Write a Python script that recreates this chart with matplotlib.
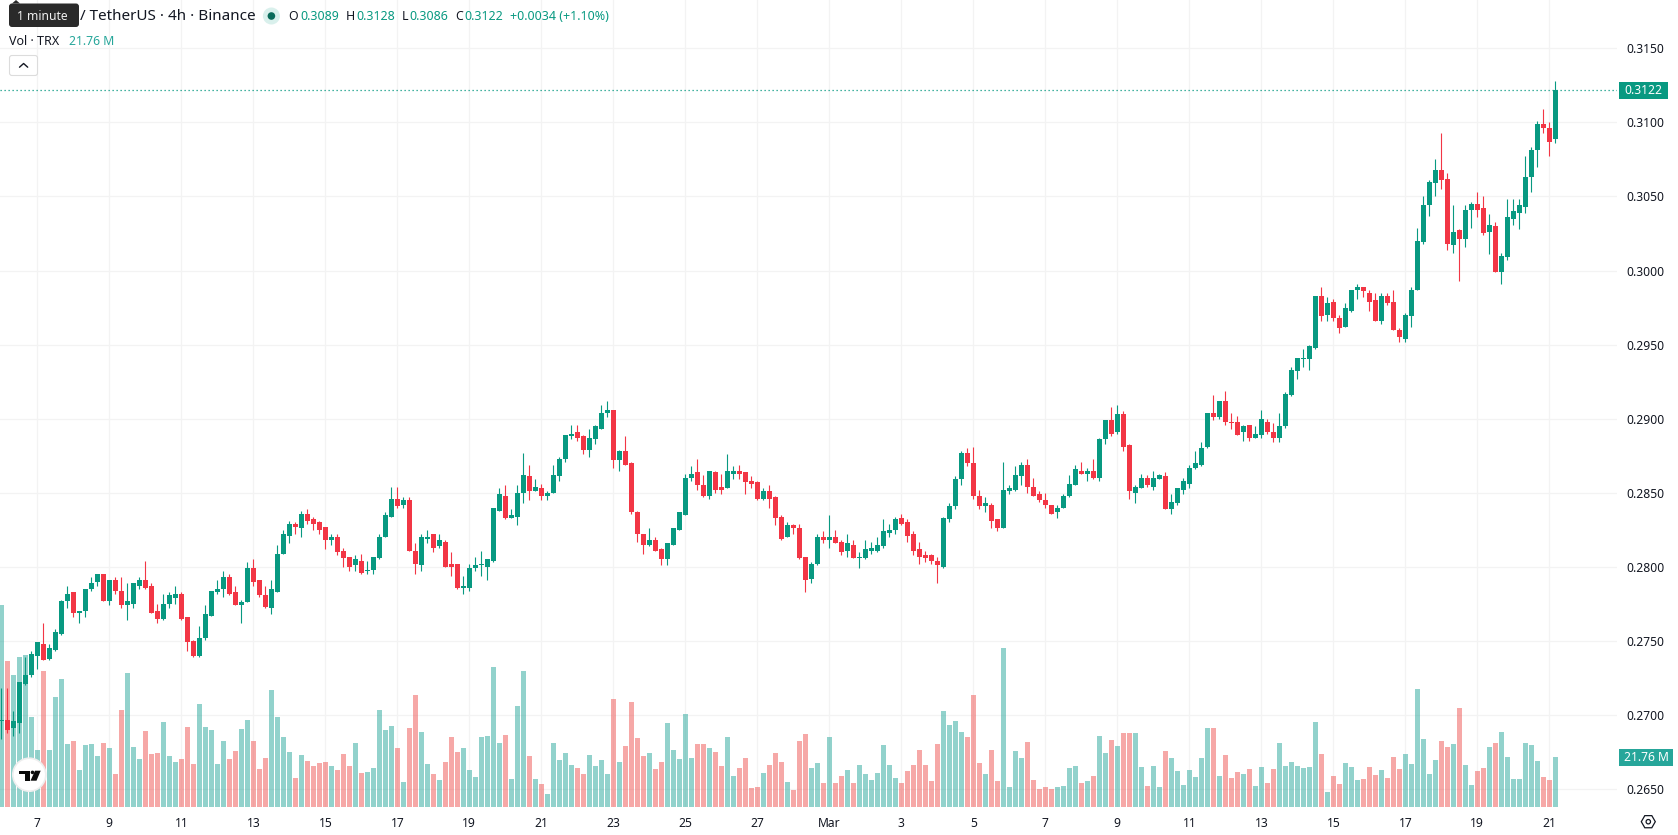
import numpy as np
import matplotlib
matplotlib.use("Agg")
import matplotlib.pyplot as plt
from matplotlib.patches import Circle, FancyBboxPatch, Polygon, Rectangle, RegularPolygon
from matplotlib.ticker import FixedLocator, FuncFormatter

plt.rcParams['font.family'] = ['Noto Sans', 'DejaVu Sans']

# TRX/USDT 4h candles, quoted in ticks of 0.0001
opens_t = [
    2696,2697,2691,2695,2721,2727,2740,2748,2738,2744,
    2755,2777,2783,2769,2770,2785,2790,2795,2777,2791,
    2784,2774,2775,2787,2791,2787,2770,2765,2775,2779,
    2782,2766,2750,2740,2752,2767,2783,2785,2793,2783,
    2774,2776,2799,2791,2781,2772,2783,2809,2821,2829,
    2826,2836,2832,2830,2827,2818,2820,2811,2807,2801,
    2804,2797,2798,2806,2820,2834,2846,2842,2845,2811,
    2801,2819,2822,2814,2817,2802,2802,2786,2786,2799,
    2801,2800,2804,2838,2848,2833,2834,2850,2861,2851,
    2853,2848,2850,2861,2873,2888,2891,2888,2879,2886,
    2893,2904,2906,2872,2878,2870,2837,2822,2815,2818,
    2812,2805,2815,2825,2835,2860,2864,2855,2848,2864,
    2854,2853,2863,2865,2864,2858,2857,2846,2851,2847,
    2834,2820,2828,2826,2807,2792,2802,2820,2818,2820,
    2817,2811,2815,2806,2806,2811,2811,2814,2823,2825,
    2833,2830,2822,2812,2808,2808,2804,2800,2832,2841,
    2859,2877,2870,2848,2841,2842,2832,2826,2851,2852,
    2861,2869,2854,2849,2845,2842,2837,2840,2848,2855,
    2865,2863,2865,2860,2886,2899,2891,2903,2882,2850,
    2853,2860,2854,2859,2861,2839,2843,2852,2856,2867,
    2869,2881,2904,2901,2912,2898,2898,2891,2896,2887,
    2889,2898,2891,2887,2895,2916,2932,2940,2940,2948,
    2983,2970,2979,2968,2962,2973,2987,2989,2985,2980,
    2966,2983,2979,2960,2954,2969,2987,3019,3044,3059,
    3068,3062,3017,3027,3021,3041,3045,3042,3026,3030,
    2999,3009,3035,3039,3043,3063,3081,3099,3096,3089,
]
highs_t = [
    2718,2718,2703,2722,2739,2743,2749,2762,2748,2758,
    2778,2787,2783,2770,2785,2793,2795,2795,2791,2793,
    2793,2789,2789,2793,2804,2789,2775,2782,2783,2787,
    2783,2766,2751,2760,2774,2784,2791,2797,2795,2787,
    2778,2803,2805,2791,2787,2791,2815,2825,2831,2830,
    2838,2839,2834,2831,2827,2822,2822,2813,2807,2808,
    2809,2804,2807,2822,2837,2854,2854,2847,2847,2816,
    2822,2825,2822,2822,2818,2810,2802,2794,2802,2807,
    2811,2805,2840,2853,2855,2839,2855,2877,2869,2859,
    2856,2851,2869,2874,2889,2896,2896,2889,2893,2896,
    2909,2912,2906,2879,2888,2871,2838,2822,2826,2820,
    2813,2816,2826,2837,2863,2868,2873,2862,2865,2865,
    2863,2876,2868,2869,2864,2861,2858,2853,2855,2848,
    2835,2830,2829,2829,2807,2803,2822,2824,2835,2825,
    2818,2822,2818,2810,2818,2817,2820,2832,2829,2834,
    2836,2832,2824,2817,2811,2809,2807,2834,2843,2861,
    2878,2880,2881,2852,2847,2843,2832,2871,2855,2868,
    2871,2873,2860,2851,2850,2842,2842,2849,2862,2869,
    2871,2867,2873,2887,2899,2908,2909,2905,2883,2855,
    2863,2862,2865,2863,2864,2849,2853,2860,2869,2878,
    2884,2904,2916,2912,2919,2904,2902,2896,2896,2895,
    2906,2900,2897,2904,2918,2935,2941,2947,2950,2983,
    2989,2982,2981,2970,2978,2987,2991,2989,2987,2985,
    2985,2985,2987,2961,2971,2989,3029,3050,3061,3075,
    3093,3066,3044,3028,3044,3046,3053,3050,3038,3033,
    3012,3048,3048,3048,3077,3083,3101,3109,3100,3128,
]
lows_t = [
    2684,2688,2686,2688,2720,2726,2731,2737,2737,2743,
    2754,2772,2766,2762,2766,2784,2787,2777,2774,2782,
    2772,2764,2772,2785,2785,2769,2762,2764,2772,2775,
    2764,2743,2739,2739,2751,2767,2782,2780,2781,2774,
    2762,2776,2787,2780,2772,2768,2783,2809,2816,2822,
    2820,2829,2825,2822,2812,2815,2808,2800,2797,2797,
    2795,2795,2795,2805,2820,2834,2840,2840,2811,2795,
    2797,2816,2810,2813,2800,2794,2785,2782,2784,2797,
    2794,2791,2803,2838,2832,2833,2828,2843,2845,2851,
    2845,2845,2850,2858,2871,2886,2885,2876,2874,2883,
    2893,2901,2867,2865,2869,2836,2817,2809,2814,2811,
    2801,2801,2815,2825,2835,2858,2852,2847,2846,2850,
    2849,2853,2859,2859,2849,2853,2845,2845,2840,2828,
    2818,2820,2822,2805,2783,2789,2801,2816,2813,2816,
    2808,2807,2806,2799,2805,2809,2810,2813,2820,2822,
    2828,2817,2808,2802,2803,2802,2789,2799,2830,2839,
    2855,2868,2846,2839,2837,2826,2824,2826,2849,2851,
    2855,2850,2848,2844,2840,2836,2833,2840,2847,2855,
    2863,2858,2859,2858,2883,2888,2890,2878,2846,2843,
    2853,2854,2852,2859,2839,2836,2842,2849,2853,2866,
    2868,2880,2899,2900,2896,2893,2889,2885,2885,2887,
    2887,2890,2884,2884,2894,2915,2927,2935,2933,2947,
    2966,2966,2966,2958,2962,2972,2981,2982,2973,2966,
    2964,2977,2960,2952,2952,2962,2987,3018,3037,3050,
    3055,3014,3012,2993,3016,3029,3036,3024,3011,2999,
    2991,3007,3031,3028,3039,3053,3070,3093,3077,3086,
]
closes_t = [
    2697,2690,2696,2722,2727,2741,2749,2737,2745,2756,
    2777,2782,2769,2770,2785,2789,2795,2777,2791,2784,
    2774,2777,2789,2791,2786,2769,2765,2775,2781,2782,
    2765,2749,2740,2752,2768,2784,2785,2793,2782,2774,
    2776,2799,2790,2781,2773,2785,2809,2822,2829,2827,
    2836,2831,2829,2825,2818,2820,2810,2806,2800,2805,
    2796,2798,2807,2820,2835,2846,2841,2845,2811,2802,
    2820,2820,2813,2818,2800,2800,2786,2787,2799,2801,
    2802,2805,2840,2849,2833,2835,2850,2862,2851,2854,
    2848,2850,2862,2873,2889,2890,2887,2879,2887,2895,
    2904,2906,2872,2878,2869,2837,2822,2815,2818,2811,
    2805,2816,2826,2837,2860,2863,2855,2848,2865,2852,
    2852,2865,2865,2863,2857,2856,2846,2851,2846,2833,
    2819,2828,2826,2806,2791,2802,2820,2818,2820,2816,
    2810,2816,2806,2807,2812,2813,2815,2824,2825,2832,
    2829,2821,2811,2807,2806,2804,2801,2833,2841,2859,
    2877,2870,2848,2841,2843,2831,2826,2852,2853,2862,
    2869,2854,2848,2845,2842,2836,2840,2848,2856,2866,
    2863,2865,2860,2886,2899,2890,2903,2881,2851,2854,
    2860,2855,2860,2862,2839,2844,2853,2858,2867,2870,
    2880,2904,2901,2912,2898,2897,2889,2895,2887,2890,
    2900,2891,2887,2895,2917,2933,2941,2941,2949,2983,
    2969,2978,2968,2961,2975,2987,2989,2986,2979,2966,
    2983,2978,2960,2955,2970,2987,3020,3044,3060,3068,
    3061,3018,3026,3021,3041,3045,3041,3025,3031,2999,
    3010,3036,3040,3044,3063,3081,3099,3096,3087,3122,
]
# traded volume per candle, millions of TRX
volume_m = [
    88.3,63.8,57.7,65.6,66.4,39.3,24.8,59.4,24.8,48.0,
    55.9,27.4,28.8,16.1,27.0,27.4,22.2,27.9,25.7,14.3,
    42.3,58.5,26.1,20.9,33.1,23.1,23.5,37.1,22.2,19.6,
    20.9,34.9,18.7,45.0,34.9,33.6,18.7,28.8,20.9,24.4,
    34.0,38.0,28.8,16.5,21.3,51.1,39.3,30.5,23.9,12.6,
    22.6,20.0,17.8,19.1,19.6,17.8,16.1,23.1,17.8,27.9,
    14.7,15.2,16.9,42.3,33.6,35.3,25.7,10.8,34.5,48.9,
    32.7,18.7,14.3,11.7,19.6,30.5,23.9,25.7,16.1,13.0,
    30.5,31.0,61.2,27.9,31.4,12.1,44.1,59.4,22.2,12.1,
    9.9,5.5,27.9,20.4,23.5,18.3,16.9,14.3,22.6,17.8,
    20.4,14.3,47.2,19.6,26.6,45.8,30.1,22.2,23.5,16.5,
    19.6,36.6,24.8,20.9,40.6,21.3,27.4,27.4,25.7,23.9,
    17.8,30.5,13.4,16.9,21.3,8.2,8.6,14.7,18.3,23.5,
    19.6,10.8,7.3,28.8,31.8,16.9,19.1,10.4,30.5,10.4,
    13.4,16.1,10.4,18.3,14.3,11.7,14.7,27.0,18.3,12.6,
    10.4,15.6,18.3,24.8,18.3,11.2,27.4,41.9,35.8,37.5,
    32.7,30.5,48.9,19.1,14.3,24.8,11.2,69.5,8.6,24.4,
    21.3,28.3,11.7,7.7,8.6,7.7,8.6,9.1,16.9,17.8,
    10.4,11.2,13.4,31.0,23.5,29.2,26.6,32.3,32.3,32.3,
    17.4,9.1,17.8,8.6,24.4,21.3,15.6,9.5,16.1,13.0,
    21.3,34.5,34.5,13.4,22.6,12.6,15.2,14.3,16.5,9.1,
    17.4,10.4,16.5,27.9,17.8,19.6,17.8,16.9,17.4,37.1,
    23.1,6.4,13.4,9.9,19.1,17.4,11.7,12.1,17.4,13.9,
    16.1,12.6,21.8,16.5,23.1,18.7,51.5,29.6,14.3,20.4,
    28.8,26.1,27.4,43.2,18.3,9.5,15.6,16.9,26.1,27.9,
    32.7,21.8,12.1,12.1,27.9,27.0,20.0,13.0,11.7,21.76,
]
price_ticks = [0.2650, 0.2700, 0.2750, 0.2800, 0.2850, 0.2900, 0.2950, 0.3000, 0.3050, 0.3100, 0.3150]
date_tick_idx = [6, 18, 30, 42, 54, 66, 78, 90, 102, 114, 126, 138, 150, 162,
                 174, 186, 198, 210, 222, 234, 246, 258]
date_tick_labels = ['7', '9', '11', '13', '15', '17', '19', '21', '23', '25', '27', 'Mar',
                    '3', '5', '7', '9', '11', '13', '15', '17', '19', '21']
last_price = 0.3122
last_volume = 21.76

UP = '#089981'
DOWN = '#f23645'
VOL_UP = '#26a69a'
VOL_DOWN = '#ef5350'
GRID = '#f3f3f3'
TEXT = '#131722'

opens = np.array(opens_t) / 1e4
highs = np.array(highs_t) / 1e4
lows = np.array(lows_t) / 1e4
closes = np.array(closes_t) / 1e4
volume = np.array(volume_m)
idx = np.arange(len(opens))
rising = closes >= opens

W, H = 1678, 835
fig = plt.figure(figsize=(W / 100, H / 100), dpi=100, facecolor='white')
# price pane fills the figure apart from the right and bottom scales
ax = fig.add_axes([0, 28 / H, 1617 / W, 807 / H])
ax.set_facecolor('white')
ax.set_xlim(-0.222, 269.28)
ax.set_ylim(0.31 - 684.7 / 74.1 * 0.005, 0.31 + 122.3 / 74.1 * 0.005)
for s in ax.spines.values():
    s.set_visible(False)

ax.set_xticks(date_tick_idx)
ax.set_xticklabels(date_tick_labels)
ax.tick_params(axis='x', length=0, pad=7, labelsize=8.7, labelcolor=TEXT)
ax.get_xticklabels()[date_tick_labels.index('Mar')].set_fontweight('bold')
ax.grid(True, color=GRID, linewidth=0.9)
ax.set_axisbelow(True)

# volume histogram shares the pane on its own hidden scale
vax = ax.twinx()
vax.set_ylim(0, 806.7 * 0.438)
vax.axis('off')
vax.bar(idx, volume, width=0.83, color=np.where(rising, VOL_UP, VOL_DOWN), alpha=0.5, linewidth=0)
vax.set_zorder(1)

# candles sit above the volume
cax = ax.twinx()
cax.set_ylim(ax.get_ylim())
cax.axis('off')
cax.set_zorder(2)
colors = np.where(rising, UP, DOWN)
cax.vlines(idx, lows, highs, colors=colors, linewidth=0.8)
cax.bar(idx, np.maximum(np.abs(closes - opens), 0.00004), bottom=np.minimum(opens, closes),
        width=0.83, color=colors, linewidth=0)
cax.axhline(last_price, color=UP, linewidth=0.9, linestyle=(0, (1, 2.2)))

# twinx moves the price labels to the left, so the right scale is set up last
ax.yaxis.tick_right()
ax.yaxis.set_major_locator(FixedLocator(price_ticks))
ax.yaxis.set_major_formatter(FuncFormatter(lambda v, _: f'{v:.4f}'))
ax.tick_params(axis='y', length=0, pad=6.6, labelsize=8.7, labelcolor=TEXT)

# overlay in pixel coordinates for the legend header and scale badges
ov = fig.add_axes([0, 0, 1, 1], facecolor='none')
ov.set_xlim(0, W)
ov.set_ylim(H, 0)
ov.axis('off')
ov.set_zorder(5)

ov.add_patch(FancyBboxPatch((9, 3.5), 70, 23.5, boxstyle='round,pad=0,rounding_size=3',
                            fc='#2a2a2a', ec='none'))
ov.add_patch(Polygon([(12, 3.5), (16, 0), (20, 3.5)], fc='#2a2a2a', ec='none'))
ov.text(17, 16.5, '1 minute', color='#f0f0f0', fontsize=8.7, va='center', ha='left')
ov.text(80, 17, '/ TetherUS · 4h · Binance', color=TEXT, fontsize=11, va='center', ha='left')
ov.add_patch(Circle((271.4, 16), 8.5, fc='#d9f0ec', ec='none'))
ov.add_patch(Circle((271.4, 16), 3.8, fc='#0b6b5b', ec='none'))

for letter, lx, val, vx in [('O', 288.6, '0.3089', 300), ('H', 346, '0.3128', 356),
                            ('L', 402, '0.3086', 409.4), ('C', 455, '0.3122', 464.5)]:
    ov.text(lx, 17, letter, color=TEXT, fontsize=8.9, va='center', ha='left')
    ov.text(vx, 17, val, color=UP, fontsize=8.9, va='center', ha='left')
ov.text(510, 17, '+0.0034 (+1.10%)', color=UP, fontsize=9, va='center', ha='left')

ov.text(9, 41.5, 'Vol · TRX', color=TEXT, fontsize=9, va='center', ha='left')
ov.text(69.4, 41.5, '21.76 M', color=VOL_UP, fontsize=8.8, va='center', ha='left')

ov.add_patch(FancyBboxPatch((9.5, 55.5), 28, 20, boxstyle='round,pad=0,rounding_size=2.5',
                            fc='white', ec='#dcdcdc', linewidth=0.8))
ov.plot([19.5, 23.6, 27.7], [67.2, 63.5, 67.2], color=TEXT, linewidth=1.0, solid_capstyle='round')

# last price and last volume badges on the right scale
ov.add_patch(Rectangle((1619, 82), 49, 17, fc=UP, ec='none'))
ov.text(1643.5, 90.5, '0.3122', color='white', fontsize=8.7, va='center', ha='center')
ov.add_patch(Rectangle((1619, 749), 54, 17.2, fc=VOL_UP, ec='none'))
ov.text(1646, 757.7, '21.76 M', color='white', fontsize=8.7, va='center', ha='center')

# attribution badge
ov.add_patch(Circle((29.3, 774.7), 16.5, fc='white', ec='#eeeeee', linewidth=1.2))
ov.add_patch(Polygon([(19, 770.7), (29.5, 770.7), (29.5, 780.7), (24.5, 780.7), (24.5, 774), (19, 774)],
                     fc='#0a0a0a', ec='none'))
ov.add_patch(Circle((32.5, 772.4), 1.8, fc='#0a0a0a', ec='none'))
ov.add_patch(Polygon([(35, 770.7), (40.7, 770.7), (36.5, 780.7), (30.5, 780.7)], fc='#0a0a0a', ec='none'))

# chart settings icon in the scale corner
ov.add_patch(RegularPolygon((1648.3, 821.7), 6, radius=7, orientation=np.pi / 6,
                            fc='none', ec=TEXT, linewidth=0.9))
ov.add_patch(Circle((1648.3, 821.7), 2.2, fc='none', ec=TEXT, linewidth=0.9))

fig.savefig('out.png', dpi=100, facecolor='white')
